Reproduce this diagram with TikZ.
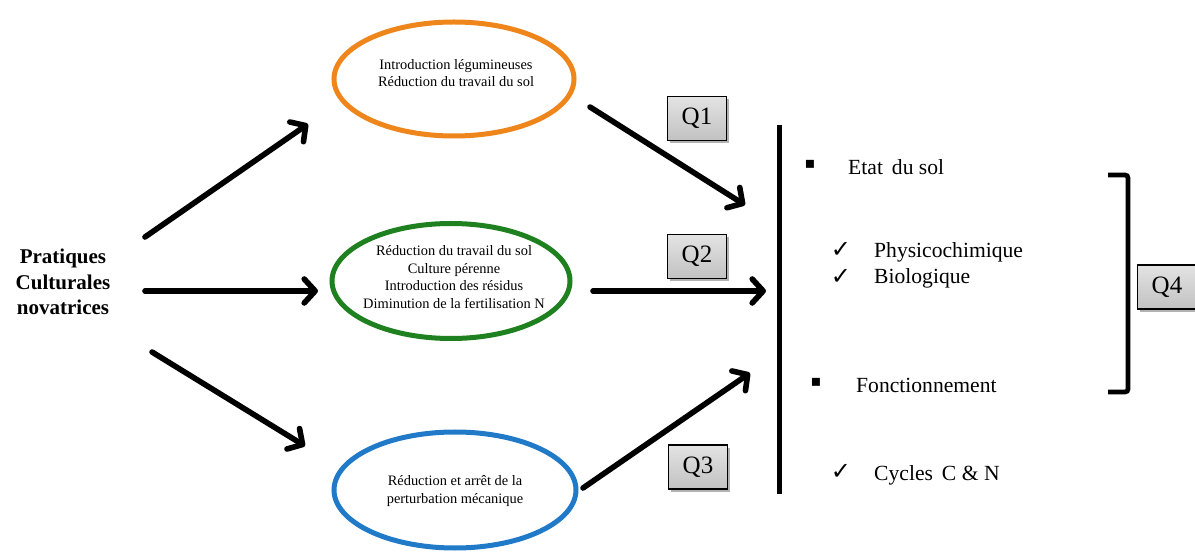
\documentclass[tikz,border=0pt]{standalone}
\usepackage{fontspec}
\setmainfont{Liberation Serif}
\newfontfamily\symfont{DejaVu Sans}
\usetikzlibrary{arrows.meta,shapes.geometric,shadows}
\definecolor{corange}{RGB}{238,134,28}
\definecolor{cgreen}{RGB}{30,128,30}
\definecolor{cblue}{RGB}{32,122,200}
\tikzset{
  oval/.style={ellipse,draw,line width=5pt,inner sep=0pt},
  ovaltext/.style={align=center,font=\fontsize{14.4}{17.5}\selectfont},
  bigarrow/.style={line width=5.6pt,line cap=round,-{Straight Barb[length=11pt,width=24pt,line cap=round,line join=round]}},
  qbox/.style={rectangle,draw=black,line width=1.6pt,minimum width=59pt,minimum height=44pt,
    top color=gray!22,bottom color=gray!48,font=\fontsize{25}{25}\selectfont,
    drop shadow={shadow xshift=2pt,shadow yshift=-3pt,opacity=0.3,fill=black}},
  item/.style={anchor=base west,inner sep=0pt,font=\fontsize{21.6}{21.6}\selectfont},
  bul/.style={anchor=center,inner sep=0pt,font=\symfont\fontsize{16}{16}\selectfont},
  chk/.style={anchor=center,inner sep=0pt,font=\symfont\fontsize{24}{24}\selectfont},
}
\begin{document}
\begin{tikzpicture}[x=1pt,y=-1pt]
\useasboundingbox (0,0) rectangle (1195,553);
\fill[white] (0,0) rectangle (1195,553);

% left label
\node[align=center,font=\bfseries\fontsize{21}{25.5}\selectfont,inner sep=0pt] (prat) at (63,282)
  {Pratiques\\Culturales\\novatrices};

% ellipses
\node[oval,draw=corange,minimum width=240pt,minimum height=114pt] (e1) at (454,79) {};
\node[oval,draw=cgreen,minimum width=238pt,minimum height=115pt] (e2) at (451,281) {};
\node[oval,draw=cblue,minimum width=242pt,minimum height=116pt] (e3) at (455,490) {};
\node[ovaltext] (t1) at (456,73) {Introduction légumineuses\\Réduction du travail du sol};
\node[ovaltext] (t2) at (454,277) {Réduction du travail du sol\\Culture pérenne\\Introduction des résidus\\Diminution de la fertilisation N};
\node[ovaltext] (t3) at (455,491) {Réduction et arrêt de la\\perturbation mécanique};

% arrow endpoints
\coordinate (a1s) at (145,237); \coordinate (a1e) at (308,124);
\coordinate (a2s) at (145,291); \coordinate (a2e) at (318,291);
\coordinate (a3s) at (152,352); \coordinate (a3e) at (305,446);
\coordinate (b1s) at (590,107); \coordinate (b1e) at (745,205);
\coordinate (b2s) at (593,291); \coordinate (b2e) at (766,291);
\coordinate (b3s) at (583,488); \coordinate (b3e) at (750,373);
\draw[bigarrow] (a1s) -- (a1e);
\draw[bigarrow] (a2s) -- (a2e);
\draw[bigarrow] (a3s) -- (a3e);
\draw[bigarrow] (b1s) -- (b1e);
\draw[bigarrow] (b2s) -- (b2e);
\draw[bigarrow] (b3s) -- (b3e);

% Q boxes
\node[qbox] (q1) at (697,118.5) {Q1};
\node[qbox] (q2) at (697,256.5) {Q2};
\node[qbox] (q3) at (698,467) {Q3};
\node[qbox] (q4) at (1167,287) {Q4};

% vertical bar
\coordinate (vt) at (779,125); \coordinate (vb) at (779,494);
\draw[line width=5pt] (vt) -- (vb);

% bracket
\coordinate (k1) at (1108,175); \coordinate (k2) at (1128,175);
\coordinate (k3) at (1128,392); \coordinate (k4) at (1108,392);
\draw[line width=4.8pt,rounded corners=3pt] (k1) -- (k2) -- (k3) -- (k4);

% list
\node[bul] (s1) at (810,164) {▪};
\node[item] (l1) at (848,175) {Etat\, du sol};
\node[chk] (c1) at (841,250) {✓};
\node[item] (l2) at (874,258) {Physicochimique};
\node[chk] (c2) at (841,277) {✓};
\node[item] (l3) at (874,284) {Biologique};
\node[bul] (s2) at (816,382) {▪};
\node[item] (l4) at (856,392) {Fonctionnement};
\node[chk] (c3) at (841,472) {✓};
\node[item] (l5) at (874,480) {Cycles\, C \& N};
\end{tikzpicture}
\end{document}
